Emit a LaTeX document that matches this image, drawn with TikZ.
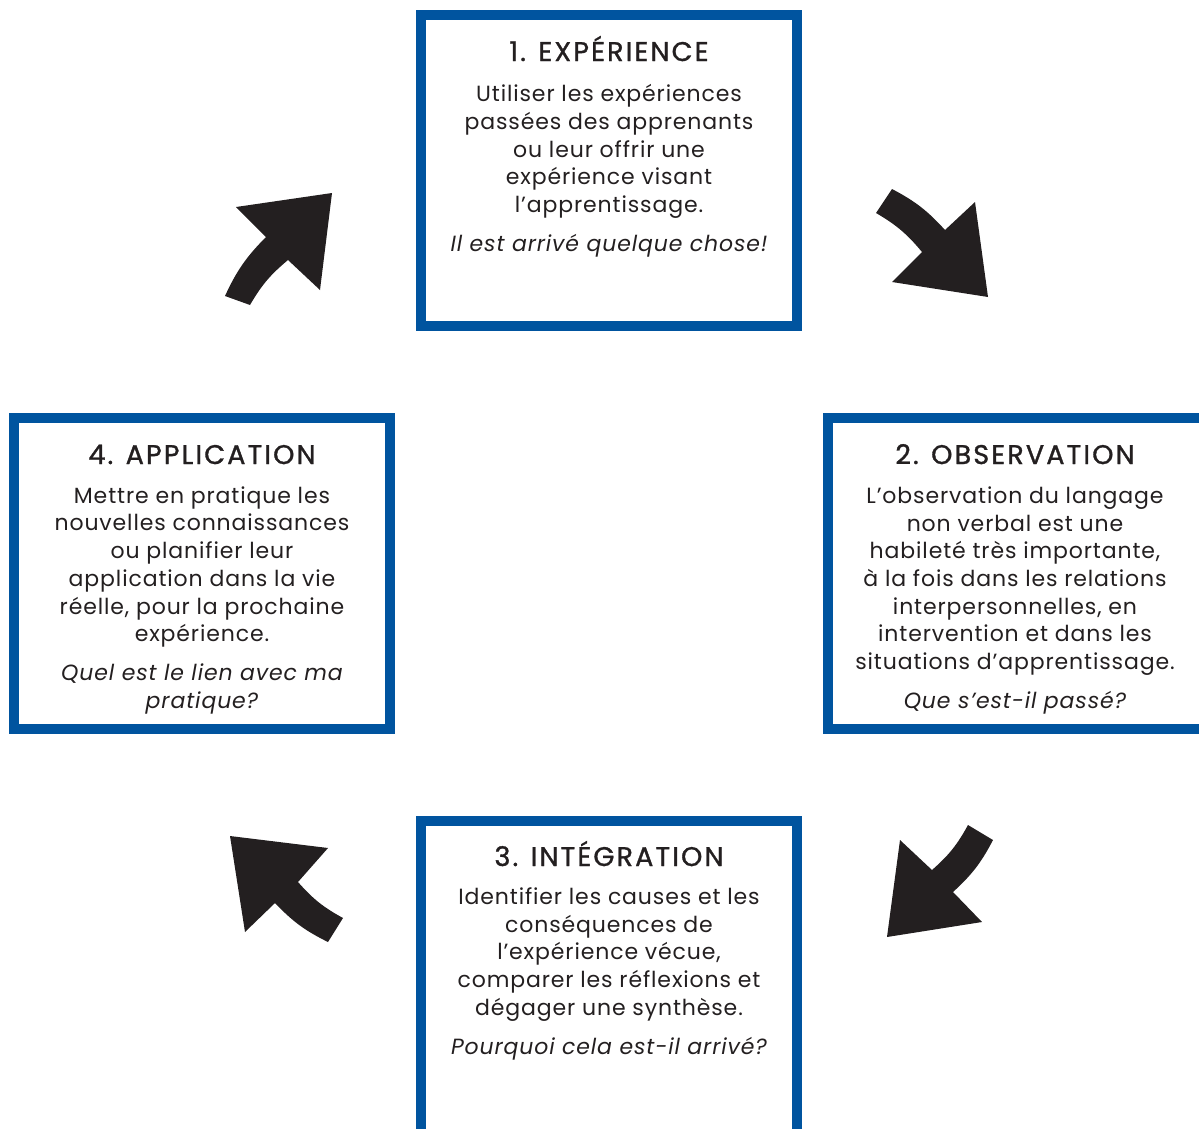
\documentclass[tikz,border=0pt]{standalone}
\usepackage{fontspec}
\setmainfont{Poppins}
\newfontfamily\ttlfont[LetterSpace=8,FakeBold=1.2]{Poppins}
\newfontfamily\bodyfont[LetterSpace=4]{Poppins}
\definecolor{boxblue}{RGB}{0,84,159}
\definecolor{ink}{RGB}{35,31,32}
\begin{document}
\begin{tikzpicture}[x=1pt,y=-1pt,
  frame/.style={draw=boxblue,line width=10pt},
  ttl/.style={text=ink,font=\ttlfont\fontsize{27}{28}\selectfont,inner sep=0pt,anchor=base},
  body/.style={text=ink,font=\bodyfont\fontsize{22}{27.7}\selectfont,align=center,inner sep=0pt,anchor=center},
  quest/.style={text=ink,font=\bodyfont\fontsize{22}{27.7}\selectfont\itshape,align=center,inner sep=0pt,anchor=center},
  bigarrow/.style={fill=ink,draw=none}]
\useasboundingbox (0,0) rectangle (1199,1128);
\begin{scope}
\clip (0,0) rectangle (1199,1128);
% boxes
\draw[frame] (421,15) rectangle (797,326);
\draw[frame] (828,418) rectangle (1204,729);
\draw[frame] (421,821) rectangle (797,1140);
\draw[frame] (14,418) rectangle (390,729);
\end{scope}
% box 1
\node[ttl] (t1) at (609,61) {1. EXPÉRIENCE};
\node[body] (b1) at (609,151.5) {Utiliser les expériences\\passées des apprenants\\ou leur offrir une\\expérience visant\\l’apprentissage.};
\node[quest] (q1) at (609,246) {Il est arrivé quelque chose!};
% box 2
\node[ttl] (t2) at (1015,464) {2. OBSERVATION};
\node[body] (b2) at (1015,581) {L’observation du langage\\non verbal est une\\habileté très importante,\\à la fois dans les relations\\interpersonnelles, en\\intervention et dans les\\situations d’apprentissage.};
\node[quest] (q2) at (1015,703) {Que s’est-il passé?};
% box 3
\node[ttl] (t3) at (609,866) {3. INTÉGRATION};
\node[body] (b3) at (609,954.5) {Identifier les causes et les\\conséquences de\\l’expérience vécue,\\comparer les réflexions et\\dégager une synthèse.};
\node[quest] (q3) at (609,1049) {Pourquoi cela est-il arrivé?};
% box 4
\node[ttl] (t4) at (202,464) {4. APPLICATION};
\node[body] (b4) at (202,567) {Mettre en pratique les\\nouvelles connaissances\\ou planifier leur\\application dans la vie\\réelle, pour la prochaine\\expérience.};
\node[quest] (q4) at (202,689) {Quel est le lien avec ma\\pratique?};
% arrows
\fill[bigarrow] (332,193) -- (320,290) -- (288,260) to[bend right=10] (250,305) -- (225,296) to[bend left=10] (266,237) -- (236,207) -- cycle;
\fill[bigarrow] (988,297) -- (892,282) -- (922,252) to[bend right=10] (876,213) -- (892,189) to[bend left=10] (945,230) -- (975,202) -- cycle;
\fill[bigarrow] (887,937) -- (900,840) -- (932,870) to[bend right=10] (968,825) -- (993,840) to[bend left=10] (953,892) -- (982,922) -- cycle;
\fill[bigarrow] (230,836) -- (328,848) -- (298,882) to[bend right=10] (343,918) -- (328,942) to[bend left=10] (275,903) -- (245,932) -- cycle;
\end{tikzpicture}
\end{document}
